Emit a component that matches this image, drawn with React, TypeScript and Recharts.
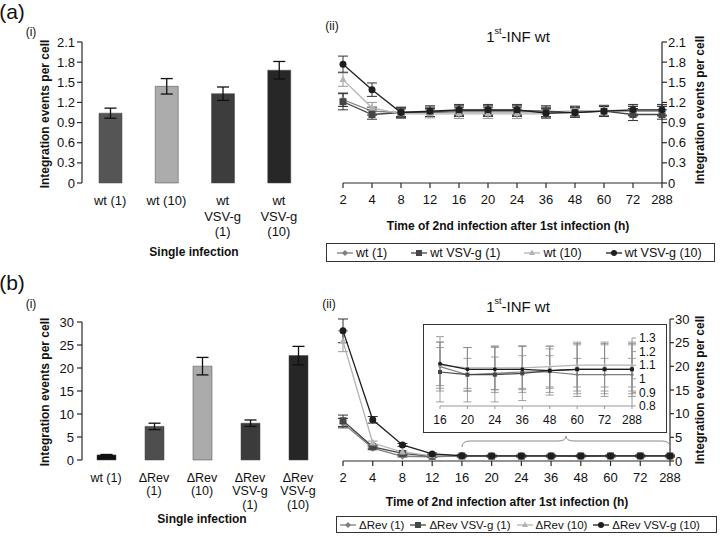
import React from "react";
import { BarChart, Bar, LineChart, Line, XAxis, YAxis, Cell, ErrorBar } from "recharts";

const FONT = '"Liberation Sans", Arial, Helvetica, sans-serif';
const INK = "#2a2a2a";

// (a)(i) single infection, wt
const catsA = ["wt (1)", "wt (10)", "wt\nVSV-g\n(1)", "wt\nVSV-g\n(10)"];
const valsA = [1.04, 1.44, 1.33, 1.68];
const errsA = [0.075, 0.115, 0.1, 0.13];
const fillsA = ["#555555", "#acacac", "#3d3d3d", "#272727"];
const ticksA = [0, 0.3, 0.6, 0.9, 1.2, 1.5, 1.8, 2.1];

// (b)(i) single infection, ΔRev
const catsB = ["wt (1)", "ΔRev\n(1)", "ΔRev\n(10)", "ΔRev\nVSV-g\n(1)", "ΔRev\nVSV-g\n(10)"];
const valsB = [1.1, 7.3, 20.4, 8.0, 22.7];
const errsB = [0.1, 0.7, 1.9, 0.7, 2.0];
const fillsB = ["#111111", "#4e4e4e", "#ababab", "#3b3b3b", "#262626"];
const ticksB = [0, 5, 10, 15, 20, 25, 30];

// time of 2nd infection (h)
const times = ["2", "4", "8", "12", "16", "20", "24", "36", "48", "60", "72", "288"];

// (a)(ii)
const namesA = ["wt (1)", "wt VSV-g (1)", "wt (10)", "wt VSV-g (10)"];
const wt1 = [1.24, 1.07, 1.05, 1.05, 1.06, 1.06, 1.06, 1.06, 1.07, 1.07, 1.07, 1.07];
const wtV1 = [1.21, 1.02, 1.05, 1.06, 1.08, 1.08, 1.08, 1.07, 1.05, 1.07, 1.02, 1.02];
const wt10 = [1.54, 1.12, 1.03, 1.03, 1.03, 1.03, 1.03, 1.03, 1.07, 1.08, 1.08, 1.08];
const wtV10 = [1.77, 1.39, 1.05, 1.07, 1.09, 1.09, 1.09, 1.04, 1.05, 1.07, 1.09, 1.09];
const eWt1 = [0.1, 0.06, 0.06, 0.06, 0.07, 0.07, 0.07, 0.07, 0.07, 0.07, 0.07, 0.07];
const eWtV1 = [0.12, 0.07, 0.07, 0.07, 0.07, 0.07, 0.07, 0.08, 0.07, 0.07, 0.09, 0.07];
const eWt10 = [0.1, 0.08, 0.07, 0.06, 0.07, 0.07, 0.07, 0.07, 0.08, 0.08, 0.08, 0.08];
const eWtV10 = [0.12, 0.1, 0.08, 0.08, 0.08, 0.08, 0.08, 0.07, 0.07, 0.08, 0.08, 0.08];

// (b)(ii)
const namesB = ["ΔRev (1)", "ΔRev VSV-g (1)", "ΔRev (10)", "ΔRev VSV-g (10)"];
const dRev1 = [8.0, 2.7, 1.0, 0.9, 1.09, 1.03, 1.04, 1.05, 1.05, 1.03, 1.03, 1.03];
const dRevV1 = [8.5, 3.0, 1.6, 1.0, 1.05, 1.03, 1.03, 1.04, 1.06, 1.07, 1.07, 1.07];
const dRev10 = [25.3, 3.8, 1.9, 1.1, 1.1, 1.08, 1.08, 1.08, 1.09, 1.1, 1.1, 1.1];
const dRevV10 = [27.5, 8.7, 3.4, 1.5, 1.11, 1.07, 1.07, 1.07, 1.06, 1.07, 1.07, 1.07];
const eRev1 = [1.0, 0.3, 0.15, 0.1, 0.14, 0.12, 0.12, 0.12, 0.12, 0.12, 0.12, 0.12];
const eRevV1 = [1.2, 0.3, 0.2, 0.1, 0.22, 0.2, 0.2, 0.2, 0.18, 0.2, 0.2, 0.2];
const eRev10 = [2.2, 0.4, 0.2, 0.1, 0.17, 0.15, 0.16, 0.16, 0.15, 0.16, 0.16, 0.16];
const eRevV10 = [2.5, 0.7, 0.3, 0.2, 0.2, 0.16, 0.17, 0.17, 0.16, 0.18, 0.18, 0.18];
const ticksInset = [0.8, 0.9, 1, 1.1, 1.2, 1.3];

const shapes = ["diamond", "square", "triangle", "circle"];
const lineColors = ["#7e7e7e", "#464646", "#b4b4b4", "#1e1e1e"];

const rowsA = times.map((t, i) => ({
  t, s0: wt1[i], s1: wtV1[i], s2: wt10[i], s3: wtV10[i],
  e0: eWt1[i], e1: eWtV1[i], e2: eWt10[i], e3: eWtV10[i],
}));
const rowsB = times.map((t, i) => ({
  t, s0: dRev1[i], s1: dRevV1[i], s2: dRev10[i], s3: dRevV10[i],
  e0: eRev1[i], e1: eRevV1[i], e2: eRev10[i], e3: eRevV10[i],
}));
const rowsInset = rowsB.slice(4);
const barRowsA = catsA.map((c, i) => ({ c, v: valsA[i], e: errsA[i] }));
const barRowsB = catsB.map((c, i) => ({ c, v: valsB[i], e: errsB[i] }));

function marker(shape: string, color: string, s: number, cx: number, cy: number, key?: any) {
  if (shape === "diamond")
    return <polygon key={key} points={`${cx},${cy - s} ${cx + s},${cy} ${cx},${cy + s} ${cx - s},${cy}`} fill={color} />;
  if (shape === "square")
    return <rect key={key} x={cx - s} y={cy - s} width={2 * s} height={2 * s} fill={color} />;
  if (shape === "triangle")
    return <polygon key={key} points={`${cx},${cy - s * 1.2} ${cx + s},${cy + s * 0.7} ${cx - s},${cy + s * 0.7}`} fill={color} />;
  return <circle key={key} cx={cx} cy={cy} r={s} fill={color} />;
}

const dotFn = (shape: string, color: string, s: number) => (p: any) => {
  if (p.cx == null || p.cy == null) return <g key={p.index} />;
  return marker(shape, color, s, p.cx, p.cy, `${shape}-${p.index}`);
};

function CatTick(props: any) {
  const { x, y, payload, lh, dy0, size } = props;
  const lines = String(payload.value).split("\n");
  return (
    <text x={x} y={y} textAnchor="middle" fontSize={size} fill="#111" fontFamily={FONT}>
      {lines.map((l, i) => (
        <tspan key={i} x={x} dy={i === 0 ? dy0 : lh}>{l}</tspan>
      ))}
    </text>
  );
}

// svg text, (x, y) is the centre of the text
function T(props: any) {
  const { x, y, size = 12, bold = false, children, rotate = false } = props;
  return (
    <text
      x={x} y={y} textAnchor="middle" dominantBaseline="central" fontSize={size}
      fontWeight={bold ? "bold" : "normal"} fill="#111" fontFamily={FONT}
      transform={rotate ? `rotate(-90 ${x} ${y})` : undefined}
    >
      {children}
    </text>
  );
}

function Title({ x, y }: any) {
  return (
    <text x={x} y={y} textAnchor="middle" dominantBaseline="central" fontSize={15} fill="#111" fontFamily={FONT}>
      1<tspan fontSize={9} dy={-5}>st</tspan><tspan dy={5}>-INF wt</tspan>
    </text>
  );
}

function LegendBox({ x, y, w, h, names, size, gap, pad }: any) {
  return (
    <div
      style={{
        position: "absolute", left: x, top: y, width: w, height: h, boxSizing: "border-box",
        border: "1.5px solid #333", display: "flex", alignItems: "center", gap, paddingLeft: pad,
        fontSize: size, color: "#111", whiteSpace: "nowrap", overflow: "hidden",
      }}
    >
      {names.map((n: string, i: number) => (
        <div key={n} style={{ display: "flex", alignItems: "center", gap: 3 }}>
          <svg width={16} height={10}>
            <line x1={0} y1={5} x2={16} y2={5} stroke={lineColors[i]} strokeWidth={1.3} />
            {marker(shapes[i], lineColors[i], 3, 8, 5)}
          </svg>
          <span>{n}</span>
        </div>
      ))}
    </div>
  );
}

const tickStyle = { fill: "#111", fontSize: 13, fontFamily: FONT };
const noLabel = () => "";

function SeriesLines({ s, w }: any) {
  return [0, 1, 2, 3].map((k) => (
    <Line
      key={k}
      dataKey={`s${k}`}
      stroke={lineColors[k]}
      strokeWidth={1.3}
      dot={dotFn(shapes[k], lineColors[k], s)}
      activeDot={false}
      isAnimationActive={false}
    >
      <ErrorBar dataKey={`e${k}`} width={w} stroke={k === 2 ? "#999" : "#333"} strokeWidth={1} direction="y" />
    </Line>
  ));
}

export default function App() {
  return (
    <div
      style={{
        position: "absolute", left: 0, top: 0, width: 720, height: 537, background: "#fff",
        fontFamily: FONT, overflow: "hidden",
      }}
    >
      {/* (a)(i) */}
      <div style={{ position: "absolute", left: 0, top: 0 }}>
        <BarChart width={330} height={270} data={barRowsA} margin={{ top: 42, right: 23, left: 0, bottom: 27 }}>
          <XAxis xAxisId="edge" type="number" domain={[0, 4]} ticks={[0, 1, 2, 3, 4]} allowDataOverflow
            height={0} tickFormatter={noLabel} tickSize={5} stroke={INK} strokeWidth={1.2} />
          <XAxis xAxisId="cat" dataKey="c" height={60} axisLine={false} tickLine={false} tickSize={0} tickMargin={0}
            interval={0} tick={<CatTick lh={15.5} dy0={22.4} size={13} />} />
          <YAxis domain={[0, 2.1]} ticks={ticksA} width={82} tickSize={5} tickMargin={2} interval={0}
            stroke={INK} strokeWidth={1.2} tick={tickStyle} />
          <Bar xAxisId="cat" dataKey="v" barSize={23} stroke="#444" strokeWidth={0.5} isAnimationActive={false}>
            {barRowsA.map((r, i) => <Cell key={r.c} fill={fillsA[i]} />)}
            <ErrorBar dataKey="e" width={6} stroke="#111" strokeWidth={1.3} direction="y" />
          </Bar>
        </BarChart>
      </div>

      {/* (a)(ii) */}
      <div style={{ position: "absolute", left: 300, top: 0 }}>
        <LineChart width={420} height={270} data={rowsA} margin={{ top: 42, right: 18, left: 43, bottom: 57 }}>
          <XAxis dataKey="t" interval={0} height={30} tickSize={5} tickMargin={7} stroke={INK} strokeWidth={1.2} tick={tickStyle} />
          <YAxis orientation="right" domain={[0, 2.1]} ticks={ticksA} width={40} tickSize={5} tickMargin={1}
            interval={0} stroke={INK} strokeWidth={1.2} tick={tickStyle} />
          {SeriesLines({ s: 3.5, w: 5 })}
        </LineChart>
      </div>

      {/* (b)(i) */}
      <div style={{ position: "absolute", left: 0, top: 270 }}>
        <BarChart width={340} height={267} data={barRowsB} margin={{ top: 52, right: 18, left: 0, bottom: 17 }}>
          <XAxis xAxisId="edge" type="number" domain={[0, 5]} ticks={[0, 1, 2, 3, 4, 5]} allowDataOverflow
            height={0} tickFormatter={noLabel} tickSize={5} stroke={INK} strokeWidth={1.2} />
          <XAxis xAxisId="cat" dataKey="c" height={60} axisLine={false} tickLine={false} tickSize={0} tickMargin={0}
            interval={0} tick={<CatTick lh={13.5} dy0={21.5} size={12.5} />} />
          <YAxis domain={[0, 30]} ticks={ticksB} width={82} tickSize={5} tickMargin={3} interval={0}
            stroke={INK} strokeWidth={1.2} tick={tickStyle} />
          <Bar xAxisId="cat" dataKey="v" barSize={19} stroke="#444" strokeWidth={0.5} isAnimationActive={false}>
            {barRowsB.map((r, i) => <Cell key={r.c} fill={fillsB[i]} />)}
            <ErrorBar dataKey="e" width={6} stroke="#111" strokeWidth={1.3} direction="y" />
          </Bar>
        </BarChart>
      </div>

      {/* (b)(ii) */}
      <div style={{ position: "absolute", left: 300, top: 270 }}>
        <LineChart width={420} height={267} data={rowsB} margin={{ top: 49, right: 10, left: 43, bottom: 46 }}>
          <XAxis dataKey="t" interval={0} height={30} tickSize={5} tickMargin={7} stroke={INK} strokeWidth={1.2} tick={tickStyle} />
          <YAxis orientation="right" domain={[0, 30]} ticks={ticksB} width={40} tickSize={4} tickMargin={1}
            interval={0} stroke={INK} strokeWidth={1.2} tick={tickStyle} />
          {SeriesLines({ s: 3.5, w: 5 })}
        </LineChart>
      </div>

      {/* inset 16-288 h */}
      <div style={{ position: "absolute", left: 423, top: 324, width: 244, height: 109, background: "#fff" }}>
        <LineChart width={244} height={109} data={rowsInset} margin={{ top: 14, right: 0, left: 17, bottom: 7 }}>
          <XAxis dataKey="t" interval={0} height={20} tickSize={3} tickMargin={6} stroke="#999"
            tick={{ fill: "#111", fontSize: 12, fontFamily: FONT }} />
          <YAxis orientation="right" domain={[0.8, 1.3]} ticks={ticksInset} allowDataOverflow width={35}
            tickSize={4} tickMargin={3} interval={0} stroke="#999" tick={{ fill: "#111", fontSize: 12, fontFamily: FONT }} />
          {[0, 1, 2, 3].map((k) => (
            <Line key={k} dataKey={`s${k}`} stroke={lineColors[k]} strokeWidth={1.2}
              dot={dotFn(shapes[k], lineColors[k], 2)} activeDot={false} isAnimationActive={false}>
              <ErrorBar dataKey={`e${k}`} width={4} stroke="#8a8a8a" strokeWidth={0.8} direction="y" />
            </Line>
          ))}
        </LineChart>
      </div>
      <div style={{ position: "absolute", left: 423, top: 324, width: 244, height: 109, boxSizing: "border-box", border: "1.5px solid #333" }} />

      <LegendBox x={326} y={243} w={389} h={19} names={namesA} size={12.5} gap={24} pad={10} />
      <LegendBox x={336} y={516} w={381} h={17} names={namesB} size={11.5} gap={6} pad={3} />

      <svg width={720} height={537} style={{ position: "absolute", left: 0, top: 0, pointerEvents: "none" }}>
        <path d="M462,447 Q462,441 470,441 L558,441 Q566,441 566,436 Q566,441 574,441 L662,441 Q670,441 670,447"
          fill="none" stroke="#8a8a8a" strokeWidth={1} />

        <T x={12} y={11} size={21}>(a)</T>
        <T x={31} y={32} size={12}>(i)</T>
        <T x={45} y={114} bold rotate>Integration events per cell</T>
        <T x={194} y={252} bold>Single infection</T>
        <T x={332} y={26} size={12}>(ii)</T>
        <Title x={518} y={36} />
        <T x={700} y={110} bold rotate>Integration events per cell</T>
        <T x={508} y={226} bold>Time of 2nd infection after 1st infection (h)</T>

        <T x={12} y={282} size={21}>(b)</T>
        <T x={31} y={304} size={12}>(i)</T>
        <T x={45} y={392} bold rotate>Integration events per cell</T>
        <T x={202} y={519} bold>Single infection</T>
        <T x={329} y={304} size={12}>(ii)</T>
        <Title x={518} y={306} />
        <T x={700} y={390} bold rotate>Integration events per cell</T>
        <T x={507} y={502} bold>Time of 2nd infection after 1st infection (h)</T>
      </svg>
    </div>
  );
}
